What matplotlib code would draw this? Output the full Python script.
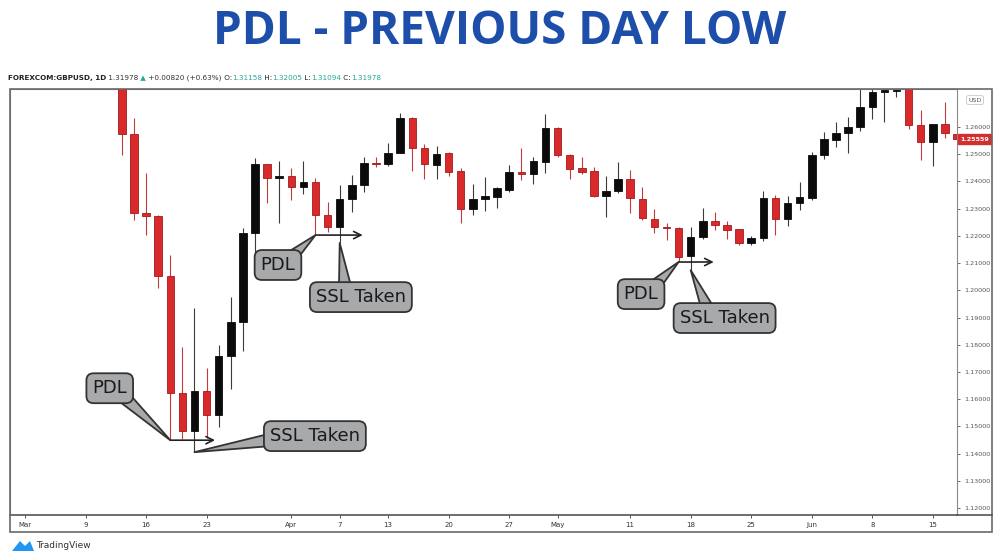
import numpy as np
import pandas as pd
import matplotlib
matplotlib.use('Agg')
import matplotlib.pyplot as plt
from matplotlib.patches import Rectangle, Polygon
import matplotlib.transforms as mtransforms

# daily bars as drawn on the chart, first one on 12 Mar
first_day = '2020-03-12'
opens = [1.2850, 1.2574, 1.2284, 1.2273, 1.2052, 1.1622, 1.1482, 1.1629, 1.1541, 1.1758,
         1.1883, 1.2210, 1.2464, 1.2413, 1.2419, 1.2379, 1.2398, 1.2276, 1.2232, 1.2335,
         1.2387, 1.2469, 1.2464, 1.2504, 1.2633, 1.2523, 1.2460, 1.2504, 1.2438, 1.2299,
         1.2335, 1.2343, 1.2368, 1.2435, 1.2427, 1.2471, 1.2596, 1.2497, 1.2449, 1.2438,
         1.2346, 1.2365, 1.2409, 1.2335, 1.2262, 1.2233, 1.2229, 1.2126, 1.2196, 1.2254,
         1.2240, 1.2225, 1.2174, 1.2192, 1.2339, 1.2262, 1.2321, 1.2339, 1.2497, 1.2552,
         1.2578, 1.2600, 1.2674, 1.2729, 1.2733, 1.2760, 1.2607, 1.2545, 1.2610, 1.2574]
highs = [1.2950, 1.2633, 1.2431, 1.2275, 1.2129, 1.1791, 1.1935, 1.1714, 1.1799, 1.1975,
         1.2229, 1.2486, 1.2466, 1.2475, 1.2449, 1.2475, 1.2413, 1.2324, 1.2387, 1.2424,
         1.2490, 1.2490, 1.2541, 1.2651, 1.2636, 1.2537, 1.2530, 1.2508, 1.2449, 1.2390,
         1.2416, 1.2379, 1.2460, 1.2523, 1.2490, 1.2648, 1.2600, 1.2500, 1.2490, 1.2453,
         1.2420, 1.2471, 1.2442, 1.2379, 1.2299, 1.2247, 1.2232, 1.2232, 1.2302, 1.2287,
         1.2254, 1.2225, 1.2199, 1.2365, 1.2350, 1.2346, 1.2398, 1.2508, 1.2582, 1.2618,
         1.2637, 1.2760, 1.2760, 1.2780, 1.2780, 1.2770, 1.2663, 1.2612, 1.2692, 1.2578]
lows = [1.2497, 1.2258, 1.2203, 1.2008, 1.1449, 1.1455, 1.1405, 1.1457, 1.1497, 1.1637,
        1.1776, 1.2140, 1.2321, 1.2247, 1.2332, 1.2354, 1.2203, 1.2214, 1.2174, 1.2288,
        1.2361, 1.2453, 1.2457, 1.2503, 1.2438, 1.2409, 1.2409, 1.2420, 1.2247, 1.2276,
        1.2290, 1.2302, 1.2361, 1.2405, 1.2390, 1.2431, 1.2490, 1.2409, 1.2427, 1.2343,
        1.2269, 1.2357, 1.2284, 1.2258, 1.2210, 1.2185, 1.2104, 1.2074, 1.2189, 1.2221,
        1.2189, 1.2166, 1.2166, 1.2181, 1.2203, 1.2236, 1.2295, 1.2332, 1.2482, 1.2526,
        1.2504, 1.2585, 1.2629, 1.2618, 1.2710, 1.2593, 1.2479, 1.2457, 1.2560, 1.2552]
closes = [1.2574, 1.2284, 1.2273, 1.2052, 1.1622, 1.1482, 1.1629, 1.1541, 1.1758, 1.1883,
          1.2210, 1.2464, 1.2413, 1.2419, 1.2379, 1.2398, 1.2276, 1.2232, 1.2335, 1.2387,
          1.2468, 1.2465, 1.2504, 1.2633, 1.2523, 1.2464, 1.2501, 1.2435, 1.2299, 1.2335,
          1.2346, 1.2376, 1.2435, 1.2427, 1.2475, 1.2596, 1.2497, 1.2446, 1.2434, 1.2346,
          1.2365, 1.2409, 1.2339, 1.2265, 1.2232, 1.2230, 1.2122, 1.2196, 1.2254, 1.2240,
          1.2221, 1.2174, 1.2192, 1.2339, 1.2262, 1.2321, 1.2343, 1.2497, 1.2556, 1.2578,
          1.2600, 1.2674, 1.2729, 1.2736, 1.2738, 1.2607, 1.2545, 1.2610, 1.2578, 1.25559]

tick_dates = ['2020-03-02', '2020-03-09', '2020-03-16', '2020-03-23', '2020-04-01',
              '2020-04-07', '2020-04-13', '2020-04-20', '2020-04-27', '2020-05-01',
              '2020-05-11', '2020-05-18', '2020-05-25', '2020-06-01', '2020-06-08',
              '2020-06-15']
tick_labels = ['Mar', '9', '16', '23', 'Apr', '7', '13', '20', '27', 'May',
               '11', '18', '25', 'Jun', '8', '15']
price_ticks = [1.12, 1.13, 1.14, 1.15, 1.16, 1.17, 1.18, 1.19, 1.20,
               1.21, 1.22, 1.23, 1.24, 1.25, 1.26]

# previous-day-low bar and the bar that swept it
pdl_dates = ['2020-03-18', '2020-04-03', '2020-05-15']
ssl_dates = ['2020-03-20', '2020-04-07', '2020-05-18']

header = 'FOREXCOM:GBPUSD, 1D'
last_quote = ['1.31978', '+0.00820 (+0.63%)', '1.31158', '1.32005', '1.31094', '1.31978']

# trading-day axis
days = pd.bdate_range('2020-03-02', '2020-06-19')
pos = {d: i for i, d in enumerate(days)}
bar_days = pd.bdate_range(first_day, periods=len(opens))
x = np.array([pos[d] for d in bar_days])
o = np.array(opens); h = np.array(highs); l = np.array(lows); c = np.array(closes)
up = c >= o

RED = '#d9292b'
RED_EDGE = '#a01c1c'
BLACK = '#0b0b0b'

fig = plt.figure(figsize=(10, 5.55), dpi=100)
ax = fig.add_axes([0.010, 1 - 515 / 555, 0.947, (515 - 89) / 555])

# wicks
ax.vlines(x[up], l[up], h[up], color='#3a3a3a', lw=0.8, zorder=2)
ax.vlines(x[~up], l[~up], h[~up], color='#c23a3a', lw=0.8, zorder=2)
# bodies
body = np.maximum(np.abs(c - o), 0.0004)
bot = np.minimum(o, c)
ax.bar(x[up], body[up], bottom=bot[up], width=0.62, color=BLACK, edgecolor=BLACK,
       lw=0.6, zorder=3)
ax.bar(x[~up], body[~up], bottom=bot[~up], width=0.62, color=RED, edgecolor=RED_EDGE,
       lw=0.6, zorder=3)

ax.set_xlim(-1.24, 77.0)
ax.set_ylim(1.1174, 1.2740)

ax.set_xticks([pos[pd.Timestamp(d)] for d in tick_dates])
ax.set_xticklabels(tick_labels)
ax.tick_params(axis='x', length=2, width=0.6, pad=3, labelsize=5, colors='#333333')
ax.yaxis.tick_right()
ax.set_yticks(price_ticks)
ax.set_yticklabels(['%.5f' % p for p in price_ticks])
ax.tick_params(axis='y', length=2, width=0.6, pad=3, labelsize=4.6, colors='#555555')
for s in ax.spines.values():
    s.set_color('#8a8a8a')
    s.set_linewidth(0.8)
ax.spines['bottom'].set_color('#555555')
ax.spines['bottom'].set_linewidth(1.2)

# USD label and last price tag on the price scale
ax.text(1.012, 0.974, 'USD', transform=ax.transAxes, fontsize=4.5, color='#555555',
        va='center', ha='left',
        bbox=dict(boxstyle='round,pad=0.3', fc='white', ec='#bbbbbb', lw=0.5))
ytrans = mtransforms.blended_transform_factory(ax.transAxes, ax.transData)
ax.text(1.003, c[-1], '%.5f' % c[-1], transform=ytrans, fontsize=4.6, color='white',
        fontweight='bold', va='center', ha='left', clip_on=False,
        bbox=dict(boxstyle='square,pad=0.35', fc='#d32f2f', ec='#d32f2f'))

# PDL / SSL callouts
GRAY = '#a8a9ab'
EDGE = '#333333'
pdl_len = [3.7, 3.9, 2.9]
pdl_box = [(7.0, 1.1640), (20.9, 1.2093), (50.9, 1.1986)]
pdl_rel = [(0.8, 0.2), (0.8, 0.8), (0.8, 0.8)]
ssl_box = [(23.95, 1.1464), (27.75, 1.1975), (57.8, 1.1898)]
ssl_rel = [(0.08, 0.35), (0.33, 0.8), (0.33, 0.8)]


def callout(label, tip, box, rel):
    ax.annotate(label, xy=tip, xytext=box, textcoords='data',
                fontsize=13, color='#1a1a1a', ha='center', va='center', zorder=6,
                bbox=dict(boxstyle='round,pad=0.33,rounding_size=0.4', fc=GRAY, ec=EDGE, lw=1.3),
                arrowprops=dict(arrowstyle='wedge,tail_width=0.75,shrink_factor=0.5',
                                fc=GRAY, ec=EDGE, lw=1.3, relpos=rel, patchA=None,
                                shrinkA=0, shrinkB=0))


for k in range(3):
    i0 = pos[pd.Timestamp(pdl_dates[k])]
    i1 = pos[pd.Timestamp(ssl_dates[k])]
    lvl = l[x == i0][0]
    sweep = l[x == i1][0]
    ax.annotate('', xy=(i0 + pdl_len[k], lvl), xytext=(i0, lvl),
                arrowprops=dict(arrowstyle='->', color='#222222', lw=1.2,
                                mutation_scale=13, shrinkA=0, shrinkB=0), zorder=5)
    callout('PDL', (i0, lvl), pdl_box[k], pdl_rel[k])
    callout('SSL Taken', (i1, sweep), ssl_box[k], ssl_rel[k])

# outer frame with price scale and time scale
fig.patches.append(Rectangle((0.010, 1 - 532 / 555), 0.982, (532 - 89) / 555,
                             transform=fig.transFigure, fill=False, ec='#6a6a6a', lw=1.2))
fig.add_artist(plt.Line2D([0.957, 0.992], [1 - 515 / 555, 1 - 515 / 555],
                          transform=fig.transFigure, color='#555555', lw=1.2))

# title
fig.text(0.5, 1 - 31 / 555, 'PDL - PREVIOUS DAY LOW', ha='center', va='center',
         fontsize=33, fontweight='bold', color='#1c4eaa', family='Open Sans')

# symbol header line, pieces chained one after another
prev = fig.text(0.008, 1 - 78 / 555, header, fontsize=5.2, color='#222222',
                fontweight='bold', va='center', ha='left')
teal = '#26a69a'
parts = [(' ' + last_quote[0], '#333333'), (' \u25b2', teal), (' ' + last_quote[1], '#333333'),
         (' O:', '#222222'), (last_quote[2], teal), (' H:', '#222222'), (last_quote[3], teal),
         (' L:', '#222222'), (last_quote[4], teal), (' C:', '#222222'), (last_quote[5], teal)]
for txt, col in parts:
    prev = ax.annotate(txt, xy=(1, 0), xycoords=prev, xytext=(0, 0),
                       textcoords='offset points', fontsize=5.2, color=col,
                       va='bottom', ha='left', annotation_clip=False)

# TradingView mark
fig.patches.append(Polygon([[0.012, 1 - 551 / 555], [0.020, 1 - 541 / 555], [0.025, 1 - 546 / 555],
                            [0.030, 1 - 541 / 555], [0.034, 1 - 551 / 555]],
                           closed=True, transform=fig.transFigure, fc='#2196f3', ec='none'))
fig.text(0.036, 1 - 546 / 555, 'TradingView', fontsize=6.5, color='#333333',
         va='center', ha='left')

fig.savefig('out.png', dpi=100, facecolor='white')
